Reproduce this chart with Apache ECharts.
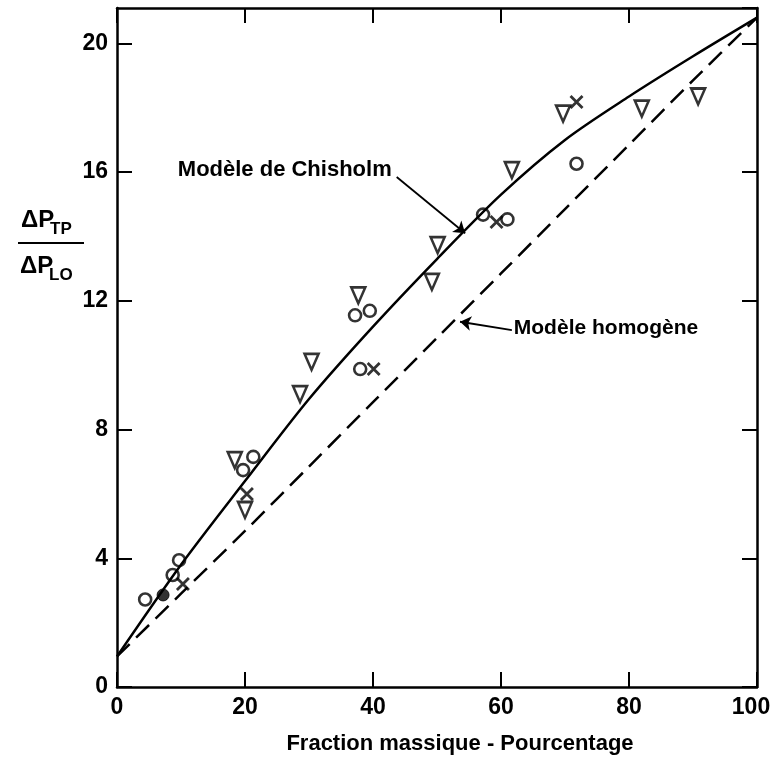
<!DOCTYPE html>
<html>
<head>
<meta charset="utf-8">
<script src="https://cdn.jsdelivr.net/npm/echarts@6/dist/echarts.min.js"></script>
<style>
html,body{margin:0;padding:0;background:#fff;}
#c{width:774px;height:767px;}
</style>
</head>
<body>
<div id="c"></div>
<script>
// ---- data ----
const chisholmX = [0, 10, 20, 30, 40, 50, 60, 70, 80, 90, 100];
const chisholmY = [0.95, 3.8, 6.4, 8.95, 11.2, 13.3, 15.3, 17.0, 18.35, 19.6, 20.8];
const homogX = [0, 10, 20, 30, 40, 50, 60, 70, 80, 90, 100];
const homogY = [0.95, 2.9, 4.85, 6.85, 8.85, 10.85, 12.85, 14.85, 16.85, 18.85, 20.8];
const triangles = [[18.4,7.05],[20.0,5.5],[28.6,9.1],[30.4,10.1],[37.7,12.17],[49.2,12.59],[50.1,13.73],[61.7,16.06],[69.7,17.82],[82.0,17.97],[90.8,18.35]];
const circles = [[4.4,2.72],[8.7,3.48],[9.7,3.94],[19.7,6.74],[21.3,7.15],[37.2,11.55],[39.5,11.69],[38.0,9.88],[57.2,14.68],[61.0,14.53],[71.8,16.26]];
const crosses = [[10.3,3.2],[20.3,6.0],[40.1,9.88],[59.3,14.45],[71.8,18.18]];
const filledCircles = [[7.2,2.86]];
const xTickValues = [0, 20, 40, 60, 80, 100];
const yTickValues = [0, 4, 8, 12, 16, 20];
const xTitle = 'Fraction massique - Pourcentage';
const labelChisholm = 'Modèle de Chisholm';
const labelHomog = 'Modèle homogène';
const arrowChisholm = [[43.7,15.85],[54.4,14.1]];
const arrowHomog = [[61.7,11.09],[53.6,11.35]];
const textChisholmAt = [9.5, 16.06];
const textHomogAt = [62.0, 11.15];

const FONT = 'Liberation Sans';
const chart = echarts.init(document.getElementById('c'));
const zip = (xs, ys) => xs.map((x, i) => [x, ys[i]]);

const axisLine = {show:true, onZero:false, lineStyle:{color:'#000', width:2.5}};
const tick = {show:true, inside:true, length:15, lineStyle:{color:'#000', width:2}};

const option = {
  animation:false,
  backgroundColor:'#fff',
  grid:{left:117, right:17, top:8, bottom:80, containLabel:false, outerBoundsMode:'none'},
  xAxis:[
    {type:'value', position:'bottom', min:0, max:100, interval:20,
     axisLine, axisTick:tick, splitLine:{show:false},
     axisLabel:{show:true, margin:9, fontSize:23, fontWeight:'bold', color:'#000', fontFamily:FONT,
       formatter:v => !xTickValues.includes(v) ? '' : (v === 100 ? '{m|100}' : String(v)),
       rich:{m:{fontSize:23, fontWeight:'bold', color:'#000', fontFamily:FONT, padding:[0,12,0,0]}}},
     name:xTitle, nameLocation:'middle', nameGap:46,
     nameTextStyle:{fontSize:22, fontWeight:'bold', color:'#000', fontFamily:FONT, padding:[0,0,0,46]}},
    {type:'value', position:'top', min:0, max:100, interval:20,
     axisLine, axisTick:tick, splitLine:{show:false}, axisLabel:{show:false}}
  ],
  yAxis:[
    {type:'value', position:'left', min:0, max:21.1, interval:4,
     axisLine, axisTick:tick, splitLine:{show:false},
     axisLabel:{show:true, margin:9, fontSize:23, fontWeight:'bold', color:'#000', fontFamily:FONT, showMaxLabel:false,
       formatter:v => yTickValues.includes(v) ? String(v) : ''}},
    {type:'value', position:'right', min:0, max:21.1, interval:4,
     axisLine, axisTick:tick, splitLine:{show:false}, axisLabel:{show:false}}
  ],
  series:[
    {type:'line', name:'Chisholm', data:zip(chisholmX, chisholmY), smooth:0.3, showSymbol:false, symbol:'none',
     lineStyle:{color:'#000', width:2.5}, z:3},
    {type:'line', name:'Homogène', data:zip(homogX, homogY), smooth:0.3, showSymbol:false, symbol:'none',
     lineStyle:{color:'#000', width:2.5, type:[18,9]}, z:3},
    {type:'scatter', data:triangles, symbol:'path://M0,0 L12,0 L6,14 Z', symbolSize:[14,16],
     itemStyle:{color:'rgba(0,0,0,0)', borderColor:'#000', borderWidth:2.6}, z:4},
    {type:'scatter', data:circles, symbol:'circle', symbolSize:12,
     itemStyle:{color:'rgba(0,0,0,0)', borderColor:'#000', borderWidth:2.6}, z:4},
    {type:'scatter', data:crosses, symbol:'path://M0,0 L10,10 M10,0 L0,10', symbolSize:12,
     itemStyle:{color:'rgba(0,0,0,0)', borderColor:'#000', borderWidth:2.8}, z:4},
    {type:'scatter', data:filledCircles, symbol:'circle', symbolSize:12,
     itemStyle:{color:'#000', borderColor:'#000', borderWidth:1}, z:4},
    {type:'lines', coordinateSystem:'cartesian2d', symbol:['none','arrow'], symbolSize:11,
     lineStyle:{color:'#000', width:1.8, opacity:1, curveness:0},
     data:[{coords:arrowChisholm},{coords:arrowHomog}], z:5}
  ]
};
chart.setOption(option);

const p1 = chart.convertToPixel({gridIndex:0}, textChisholmAt);
const p2 = chart.convertToPixel({gridIndex:0}, textHomogAt);
const txt = (x, y, s, size, align) => ({type:'text', x, y,
  style:{text:s, fill:'#000', font:`bold ${size}px "${FONT}"`, align:align||'left', verticalAlign:'middle'}});
chart.setOption({graphic:[
  txt(p1[0], p1[1], labelChisholm, 22),
  txt(p2[0], p2[1], labelHomog, 21),
  txt(21, 220, 'ΔP', 24),
  txt(50, 229, 'TP', 17),
  txt(20, 266, 'ΔP', 24),
  txt(49, 275, 'LO', 17),
  {type:'line', shape:{x1:18, y1:243, x2:84, y2:243}, style:{stroke:'#000', lineWidth:2}}
]});
</script>
</body>
</html>
